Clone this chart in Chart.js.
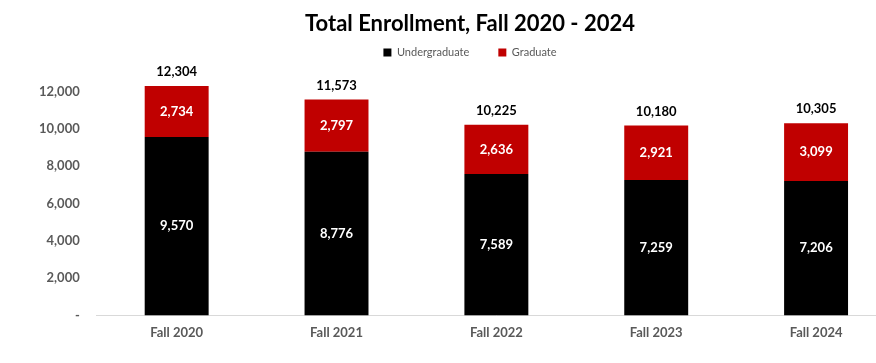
<!DOCTYPE html>
<html>
<head>
<meta charset="utf-8">
<script src="https://cdn.jsdelivr.net/npm/chart.js@4"></script>
<style>
  html, body { margin: 0; padding: 0; background: #fff; overflow: hidden; }
  #wrap { width: 940px; height: 363px; }
</style>
</head>
<body>
<div id="wrap"><canvas id="enrollChart" width="940" height="363"></canvas></div>
<script>
const terms = ["Fall 2020", "Fall 2021", "Fall 2022", "Fall 2023", "Fall 2024"];
const undergrad = [9570, 8776, 7589, 7259, 7206];
const graduate = [2734, 2797, 2636, 2921, 3099];
const totals = [12304, 11573, 10225, 10180, 10305];
const yTicks = [0, 2000, 4000, 6000, 8000, 10000, 12000];

const fmt = (v) => v.toLocaleString("en-US");
const FONT = "Lato, 'Open Sans', sans-serif";

const barLabels = {
  id: "barLabels",
  afterDatasetsDraw(chart) {
    const ctx = chart.ctx;
    ctx.save();
    ctx.textAlign = "center";
    ctx.textBaseline = "middle";
    ctx.font = "bold 13px " + FONT;
    ctx.fillStyle = "#ffffff";
    chart.data.datasets.forEach((ds, i) => {
      chart.getDatasetMeta(i).data.forEach((bar, j) => {
        ctx.fillText(fmt(ds.data[j]), bar.x, (bar.y + bar.base) / 2);
      });
    });
    // totals above the stack
    const top = chart.getDatasetMeta(chart.data.datasets.length - 1).data;
    ctx.fillStyle = "#000000";
    top.forEach((bar, j) => {
      ctx.fillText(fmt(totals[j]), bar.x, bar.y - 14);
    });
    ctx.restore();
  }
};

// fixed header heights (wide legend spacing) and a small nudge right of title + legend
const headerFit = {
  id: "headerFit",
  beforeInit(chart) {
    const tUpd = chart.titleBlock.update;
    chart.titleBlock.update = function (w, h, m) {
      tUpd.call(this, w, h, m);
      this.height = 18;
      this.bottom = this.top + 18;
    };
    const lFit = chart.legend.fit;
    chart.legend.fit = function () {
      lFit.call(this);
      this.height = 55;
    };
  },
  afterLayout(chart) {
    [chart.titleBlock, chart.legend].forEach((b) => {
      b.left += 11;
      b.right += 11;
    });
  }
};

const ctx = document.getElementById("enrollChart").getContext("2d");
new Chart(ctx, {
  type: "bar",
  data: {
    labels: terms,
    datasets: [
      { label: "Undergraduate", data: undergrad, backgroundColor: "#000000" },
      { label: "Graduate", data: graduate, backgroundColor: "#C00000" }
    ]
  },
  options: {
    responsive: false,
    animation: false,
    layout: { padding: { left: 22, right: 44, top: 0, bottom: 12 } },
    datasets: { bar: { barPercentage: 0.4, categoryPercentage: 1.0 } },
    plugins: {
      title: {
        display: true,
        text: "Total Enrollment, Fall 2020 - 2024",
        color: "#000000",
        font: { family: FONT, size: 22, weight: "bold" },
        padding: { top: 11, bottom: 0 }
      },
      legend: {
        position: "top",
        labels: {
          boxWidth: 8,
          boxHeight: 8,
          color: "#595959",
          font: { family: FONT, size: 11 },
          padding: 29
        }
      },
      tooltip: { enabled: false }
    },
    scales: {
      x: {
        stacked: true,
        grid: { display: false, drawTicks: false },
        border: { color: "#D9D9D9", width: 1 },
        ticks: { color: "#595959", font: { family: FONT, size: 13, weight: "bold" }, padding: 10 }
      },
      y: {
        stacked: true,
        min: 0,
        max: 13000,
        grid: { display: false, drawTicks: false },
        border: { display: false },
        afterBuildTicks: (scale) => {
          scale.ticks = yTicks.map((v) => ({ value: v }));
        },
        ticks: {
          color: "#595959",
          padding: 17,
          font: { family: FONT, size: 13, weight: "bold" },
          callback: (v) => (v === 0 ? "-" : fmt(v))
        }
      }
    }
  },
  plugins: [barLabels, headerFit]
});
</script>
</body>
</html>
